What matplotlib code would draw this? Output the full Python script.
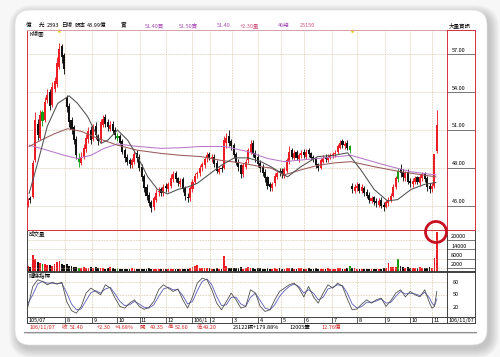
import numpy as np
import matplotlib
matplotlib.use("Agg")
import matplotlib.pyplot as plt
from matplotlib.patches import FancyBboxPatch, Circle

plt.rcParams['font.family'] = ['Noto Sans CJK TC', 'DejaVu Sans']

# ---------------- data ----------------
opens = [45.1,45.6,45.7,48.6,51.5,50.4,52.4,51.8,53.4,54.0,53.0,54.2,54.6,56.0,57.6,56.9,53.6,52.9,51.8,51.2,
         50.3,48.8,48.4,48.9,49.5,50.3,51.0,50.3,51.3,50.5,50.2,51.4,52.0,51.6,51.1,51.5,51.0,50.5,50.5,50.1,
         49.4,48.9,48.6,48.2,48.5,49.2,48.9,48.1,47.4,46.5,45.9,45.3,44.9,45.5,46.1,46.3,46.0,46.6,46.3,46.6,
         47.1,47.6,47.2,46.7,47.1,46.4,45.7,45.6,46.3,46.9,47.5,47.6,48.1,48.2,48.8,49.1,48.7,48.9,48.4,47.7,
         48.0,48.0,50.0,50.5,50.1,49.8,49.1,48.5,48.2,47.5,48.1,48.6,49.3,50.0,49.2,48.9,48.4,48.1,47.7,47.3,
         46.7,46.4,46.8,47.3,47.8,47.8,47.4,47.8,48.5,49.4,48.8,49.3,48.7,49.0,49.3,48.9,49.4,49.2,48.9,48.8,
         48.3,48.0,48.5,48.9,48.6,48.8,49.0,49.1,49.3,49.6,50.1,49.7,50.0,49.7,46.6,46.2,46.4,46.7,46.2,46.4,
         46.1,45.9,45.4,45.7,45.4,45.1,45.5,45.1,44.9,45.2,45.5,45.8,46.5,47.1,47.9,47.7,47.2,47.7,47.0,46.7,
         46.9,47.3,46.8,47.2,47.6,47.2,46.6,46.3,46.6,49.35]
closes = [45.3,45.5,48.4,51.8,50.6,52.2,51.7,53.2,53.8,52.9,54.4,54.9,56.3,57.4,56.8,55.8,52.8,51.6,51.0,50.2,
          49.0,48.5,48.9,49.6,50.4,50.9,50.2,51.2,50.6,50.1,51.6,51.9,51.5,51.2,51.4,50.9,50.6,50.4,50.0,49.3,
          48.8,48.5,48.3,48.6,49.1,48.8,48.0,47.3,46.4,45.8,45.2,44.8,45.6,46.0,46.2,46.0,46.5,46.4,46.7,47.2,
          47.5,47.1,46.8,47.0,46.3,45.8,45.6,46.4,46.9,47.4,47.6,48.0,48.3,48.7,49.0,48.8,48.9,48.3,47.8,47.9,
          47.9,50.2,50.4,50.0,49.7,49.0,48.4,48.1,47.5,48.2,48.5,49.4,49.9,49.1,48.8,48.3,48.0,47.6,47.2,46.6,
          46.5,46.7,47.4,47.6,47.7,47.5,47.9,48.6,49.3,48.9,49.2,48.8,49.0,49.2,49.0,49.3,49.1,48.8,48.7,48.2,
          48.0,48.6,48.8,48.7,48.9,49.0,49.1,49.2,49.7,50.0,49.8,49.9,49.6,49.4,46.3,46.5,46.6,46.2,46.5,46.0,
          45.8,45.5,45.6,45.3,45.2,45.4,45.0,44.9,45.3,45.5,45.8,46.5,47.2,47.8,47.6,47.3,47.6,46.9,46.8,47.0,
          47.2,46.9,47.3,47.5,47.1,46.5,46.3,46.6,49.1,51.4]
highs = [45.6,45.8,48.6,52.4,51.9,52.6,52.6,53.6,54.2,54.2,54.8,55.2,56.8,57.9,57.8,57.1,53.8,53.1,52.0,51.4,
         50.5,49.2,49.3,49.9,50.7,51.2,51.3,51.5,51.6,50.7,51.9,52.2,52.3,51.9,51.7,51.7,51.2,50.8,50.7,50.3,
         49.6,49.1,48.8,48.8,49.4,49.4,49.1,48.3,47.5,46.7,46.1,45.5,45.8,46.3,46.5,46.5,46.7,46.8,46.9,47.5,
         47.8,47.8,47.3,47.2,47.3,46.6,46.0,46.6,47.1,47.6,47.8,48.2,48.5,48.9,49.3,49.3,49.1,49.1,48.6,48.1,
         48.2,50.5,50.8,51.0,50.3,50.0,49.3,48.7,48.3,48.4,48.7,49.6,50.2,50.2,49.4,49.1,48.6,48.3,47.9,47.4,
         46.9,46.9,47.6,47.8,48.0,48.0,48.1,48.8,49.7,49.6,49.4,49.4,49.2,49.4,49.5,49.5,49.6,49.3,49.0,48.9,
         48.4,48.8,49.0,49.1,49.1,49.2,49.3,49.4,49.9,50.2,50.3,50.1,50.2,49.8,46.8,46.7,46.9,46.8,46.7,46.6,
         46.3,46.1,45.8,45.8,45.6,45.6,45.7,45.3,45.5,45.7,46.0,46.7,47.4,48.0,48.3,47.9,47.8,47.9,47.2,47.2,
         47.4,47.4,47.5,47.7,47.7,47.4,46.8,46.8,49.1,52.6]
lows = [44.9,45.2,45.6,48.5,50.2,50.2,51.3,51.6,53.1,52.6,52.8,54.0,54.4,55.8,56.3,55.4,52.4,51.2,50.7,49.9,
        48.7,48.1,48.2,48.7,49.3,50.0,49.9,50.1,50.3,49.8,50.0,51.2,51.2,50.9,50.9,50.7,50.3,50.1,49.8,49.1,
        48.5,48.2,48.0,48.0,48.3,48.5,47.8,47.0,46.1,45.5,45.0,44.5,44.7,45.3,45.8,45.8,45.8,46.1,46.1,46.4,
        46.9,46.9,46.6,46.5,46.1,45.5,45.3,45.4,46.1,46.7,47.2,47.4,47.8,48.0,48.5,48.6,48.5,48.1,47.6,47.5,
        47.7,47.9,49.6,49.7,49.4,48.8,48.2,47.8,47.2,47.3,47.9,48.4,49.1,48.9,48.5,48.1,47.7,47.4,46.9,46.3,
        46.2,46.2,46.6,47.1,47.4,47.2,47.2,47.6,48.3,48.7,48.6,48.6,48.5,48.8,48.8,48.7,48.9,48.6,48.5,48.0,
        47.8,47.9,48.4,48.5,48.5,48.7,48.8,48.9,49.1,49.5,49.6,49.5,49.4,49.2,46.0,46.0,46.2,46.0,46.0,45.8,
        45.6,45.2,45.2,45.1,44.9,44.9,44.8,44.6,44.8,45.0,45.3,45.7,46.3,46.9,47.3,47.0,47.0,46.7,46.5,46.5,
        46.7,46.7,46.6,47.0,46.9,46.2,46.0,46.1,46.4,49.2]
volumes = [3000,2500,10500,8000,5500,5000,4800,4200,3800,4000,3500,4200,5800,6200,4500,3800,4800,3500,3000,2600,
           2800,2200,2000,2400,2100,1800,2300,1900,2500,1700,2200,1900,1600,1800,2400,1700,1500,1900,1400,1600,
           1300,1500,1200,1700,1400,1600,1300,1500,1200,1400,1700,1300,1500,1200,1600,1400,1300,1100,1500,1200,
           1400,1300,1100,1600,1200,1000,1400,1700,2400,3300,4000,2200,1800,2000,1700,1900,1600,1500,1800,1400,
           1600,9600,3000,2200,1900,1700,2000,1800,2300,1600,1900,2600,2100,1800,1500,1700,2000,1600,1400,1800,
           1500,1300,1700,1600,1900,1500,1400,1800,2200,1700,1600,1500,1900,1700,1400,1600,1800,1500,1300,1700,
           1400,1600,1500,1300,1700,1400,1600,1500,1800,1700,1500,1600,1900,3200,2000,1700,1500,1400,1600,1300,
           1500,1400,1200,1600,1300,1500,1400,1700,2000,5000,2400,2800,2600,8000,3000,2400,2000,2600,1800,2200,
           2000,1700,2400,1900,2100,1800,2300,2000,8600,25150]
green_idx = [6, 21, 37, 133, 153]

ma_s_x = [0.5,4,8,12.3,17,20.5,24.7,27.4,30.2,33,37,41.2,45.3,49.5,53.6,57.7,61.9,66,70.1,75.6,79.8,85.3,90.8,
          96.3,100.4,107.3,112.8,119.7,126.6,132.1,137.6,143.1,148.6,152.8,158.3,163.8,168.6]
ma_s = [46.0,48.4,51.3,53.1,53.7,53.1,52.05,51.0,49.95,50.2,51.0,50.2,48.9,47.3,46.3,45.95,46.3,46.5,46.8,47.6,
        48.2,48.8,48.8,48.5,48.1,47.3,48.1,48.9,49.0,49.2,47.85,46.3,45.4,45.5,46.3,46.7,46.85]
ma_m_x = [0.5,5.4,10.9,16.4,21.9,28.8,37,45.3,55,63.2,71.5,79.8,88,96.3,100.4,105.9,112.8,119.7,126.6,133.5,
          143.1,154.1,168.6]
ma_m = [49.7,50.2,50.7,51.1,50.9,50.35,49.8,49.4,49.15,49.0,48.9,48.6,48.4,48.1,48.0,47.45,47.85,48.2,48.4,48.5,
        48.1,47.7,47.3]
ma_l_x = [0.5,8,15,20.5,26,31.5,37,45.3,55,63.2,71.5,81.1,90.8,99,105.9,119.7,133.5,147.2,158.3,168.6]
ma_l = [49.8,49.4,49.0,48.75,49.0,49.55,49.9,49.7,49.55,49.6,49.7,49.7,49.3,48.75,48.5,48.75,49.0,48.25,47.7,47.45]

kd_x = [0,2,4,6,8,10,12,14,16,18,20,22,24,26,28,30,32,34,36,38,40,42,44,46,48,50,52,54,56,58,60,62,64,66,68,70,
        72,74,76,78,80,82,84,86,88,90,92,94,96,98,100,102,104,106,108,110,112,114,116,118,120,122,124,126,128,130,
        132,134,136,138,140,142,144,146,148,150,152,154,156,158,160,162,164,166,167,168,169]
k_vals = [22,70,86,82,74,80,76,80,34,12,6,22,54,66,58,50,74,66,42,22,18,30,38,22,15,20,34,62,74,66,58,64,38,18,
          45,78,90,86,62,30,14,34,54,38,18,22,62,54,22,10,14,38,58,66,74,78,66,45,70,45,30,54,74,66,78,70,40,14,16,
          28,38,30,38,42,22,36,54,62,45,58,50,45,62,30,18,22,58]
d_vals = [30,50,76,82,78,78,76,78,55,28,14,16,36,55,60,54,64,68,52,34,24,26,34,28,20,18,26,46,64,68,62,62,48,28,
          34,60,82,88,74,46,24,26,44,44,28,22,44,54,36,18,14,26,46,60,70,76,70,54,62,54,38,44,64,68,74,72,54,28,18,
          22,32,32,35,40,30,32,46,58,52,54,52,48,56,42,30,24,40]

month_pos = [15.5,26.5,36.8,46.1,56.9,67.8,75.3,84.3,95.1,104.6,114.1,125.7,136.0,147.6,157.9,167.0]
month_lab = ['8','9','10','11','12','106/1','2','3','4','5','6','7','8','9','10','11']
price_ticks = [45, 48, 51, 54, 57]
vol_ticks = [2000, 8000, 14000, 20000]
kd_ticks = [20, 50, 80]

# ---------------- figure ----------------
W, H = 500, 357
fig = plt.figure(figsize=(5, 3.57), dpi=100)
fig.patch.set_facecolor('#f7f7f7')

def rect(x0, y0, x1, y1):
    return [x0 / W, 1 - y1 / H, (x1 - x0) / W, (y1 - y0) / H]

bg = fig.add_axes([0, 0, 1, 1])
bg.set_xlim(0, W); bg.set_ylim(H, 0); bg.axis('off')
for k in range(10):
    bg.add_patch(FancyBboxPatch((15 - k + 3, 10 - k + 4), 472 + 2 * k, 335 + 2 * k,
                                boxstyle="round,pad=0,rounding_size=%d" % (15 + k),
                                fc='#606060', ec='none', alpha=0.035))
bg.add_patch(FancyBboxPatch((15, 10), 472, 335, boxstyle="round,pad=0,rounding_size=15",
                            fc='white', ec='#e0e0e0', lw=0.5))

FS = 4.0
RED = '#d42a2a'
PUR = '#a84fb8'
header = [(26, '億', 'black'), (39, '光', 'black'), (47, '2393', 'black'), (61, '日線', 'black'),
          (75, '股本', 'black'), (87, '43.99億', 'black'), (121, '實', 'black'),
          (145, '51.40買', PUR), (179, '51.50賣', PUR), (217, '51.40', PUR), (240, '+2.30量', '#d0507a'),
          (278, '46總', PUR), (300, '25150', '#d0507a'), (449, '大量資訊', 'black')]
for x, t, c in header:
    bg.text(x, 27, t, fontsize=FS, color=c, ha='left', va='baseline')

info = [(30, '106/11/07', RED), (62, '收', RED), (70, '51.40', RED), (97, '+2.30', RED),
        (115, '+4.68%', RED), (140, '開', RED), (150, '49.35', RED), (168, '高', RED),
        (175, '52.60', RED), (197, '低', RED), (203, '49.20', RED),
        (233, '25122張+179.88%', 'black'), (290, '12005筆', 'black'), (322, '12.76億', RED)]
for x, t, c in info:
    bg.text(x, 329, t, fontsize=FS, color=c, ha='left', va='baseline')
bg.plot([24, 476], [331.5, 331.5], color='#909090', lw=0.8)
bg.plot([24, 476], [333, 333], color='#c8c8c8', lw=0.5)

XL = (-0.4, 173.2)
GRID = dict(color='#c9b48a', lw=0.5, linestyle=(0, (1, 1.3)))

def style(ax, col):
    ax.set_xticks([]); ax.set_yticks([])
    ax.set_facecolor('white')
    for s in ax.spines.values():
        s.set_color(col); s.set_linewidth(0.7)

# main K-line panel
ax = fig.add_axes(rect(27, 30, 447, 230))
ax.set_xlim(*XL); ax.set_ylim(43.1, 58.9)
style(ax, '#d23040')
ax.spines['top'].set_color('#d8a0a8')
for m in month_pos:
    ax.axvline(m, **GRID)
for p in price_ticks:
    ax.axhline(p, **GRID)
o = np.array(opens); c = np.array(closes); h = np.array(highs); l = np.array(lows)
idx = np.arange(len(o))
cols = np.where(c > o, '#ee1c24', '#111111').astype(object)
for g in green_idx:
    cols[g] = '#14a014'
body = np.where(np.abs(c - o) < 0.08, 0.08, c - o)
ax.vlines(idx, l, h, colors=list(cols), lw=0.65, zorder=3)
ax.bar(idx, body, bottom=o, width=0.85, color=list(cols), lw=0, zorder=4)
ax.plot(ma_l_x, ma_l, color='#b878c8', lw=0.75, zorder=5)
ax.plot(ma_m_x, ma_m, color='#9a5a5a', lw=0.75, zorder=5)
ax.plot(ma_s_x, ma_s, color='#505050', lw=0.75, zorder=5)
ax.text(0.005, 0.998, 'K線圖', transform=ax.transAxes, fontsize=FS, va='top', ha='left')
ax.plot([13, 134], [58.8, 58.8], ls='none', marker='v', ms=1.6, color='#e8d020', clip_on=False)

axr = fig.add_axes(rect(447, 30, 475, 230))
axr.set_xlim(0, 1); axr.set_ylim(43.1, 58.9)
style(axr, '#d23040')
for p in price_ticks:
    axr.axhline(p, color='#606060', lw=0.6)
    axr.text(0.18, p + 0.12, '%.2f' % p, fontsize=FS, va='bottom', ha='left')

# volume panel
av = fig.add_axes(rect(27, 230, 447, 271))
av.set_xlim(*XL); av.set_ylim(0, 26450)
style(av, '#404040')
av.spines['top'].set_color('#d23040')
for m in month_pos:
    av.axvline(m, **GRID)
for v in vol_ticks:
    av.axhline(v, **GRID)
av.bar(idx, volumes, width=0.75, color=list(cols), lw=0)
av.text(0.005, 0.99, '成交量', transform=av.transAxes, fontsize=FS, va='top', ha='left')

avr = fig.add_axes(rect(447, 230, 475, 271))
avr.set_xlim(0, 1); avr.set_ylim(0, 26450)
style(avr, '#404040')
avr.spines['top'].set_color('#d23040')
for v in vol_ticks:
    avr.axhline(v, color='#606060', lw=0.6)
    avr.text(0.15, v + 400, str(v), fontsize=FS, va='bottom', ha='left')

# KD panel
ak = fig.add_axes(rect(27, 272, 447, 317))
ak.set_xlim(*XL); ak.set_ylim(-3.3, 104.7)
style(ak, '#404040')
for m in month_pos:
    ak.axvline(m, **GRID)
for v in kd_ticks:
    ak.axhline(v, **GRID)
ak.plot(kd_x, d_vals, color='#5a5ab8', lw=0.6)
ak.plot(kd_x, k_vals, color='#505050', lw=0.6)
ak.text(0.005, 0.995, '隨機指標', transform=ak.transAxes, fontsize=FS, va='top', ha='left')

akr = fig.add_axes(rect(447, 272, 475, 317))
akr.set_xlim(0, 1); akr.set_ylim(-3.3, 104.7)
style(akr, '#404040')
for v in kd_ticks:
    akr.text(0.2, v, str(v), fontsize=FS, va='center', ha='left')

# date strip
ad = fig.add_axes(rect(27, 317, 447, 323))
ad.set_xlim(*XL); ad.set_ylim(0, 1)
style(ad, '#404040')
ad.text(0.2, 0.45, '105/07', fontsize=FS, va='center', ha='left')
for m, t in zip(month_pos, month_lab):
    ad.axvline(m, color='#404040', lw=0.6)
    ad.text(m + 0.6, 0.45, t, fontsize=FS, va='center', ha='left')
adr = fig.add_axes(rect(447, 317, 475, 323))
adr.set_xlim(0, 1); adr.set_ylim(0, 1)
style(adr, '#404040')
adr.text(0.06, 0.45, '106/11/07', fontsize=FS, va='center', ha='left')

# overlay: red highlight circle
ov = fig.add_axes([0, 0, 1, 1], facecolor='none')
ov.set_xlim(0, W); ov.set_ylim(H, 0); ov.axis('off')
ov.add_patch(Circle((436, 232), 10.5, fill=False, ec='#c81020', lw=2.0))

fig.savefig('out.png', dpi=100)
